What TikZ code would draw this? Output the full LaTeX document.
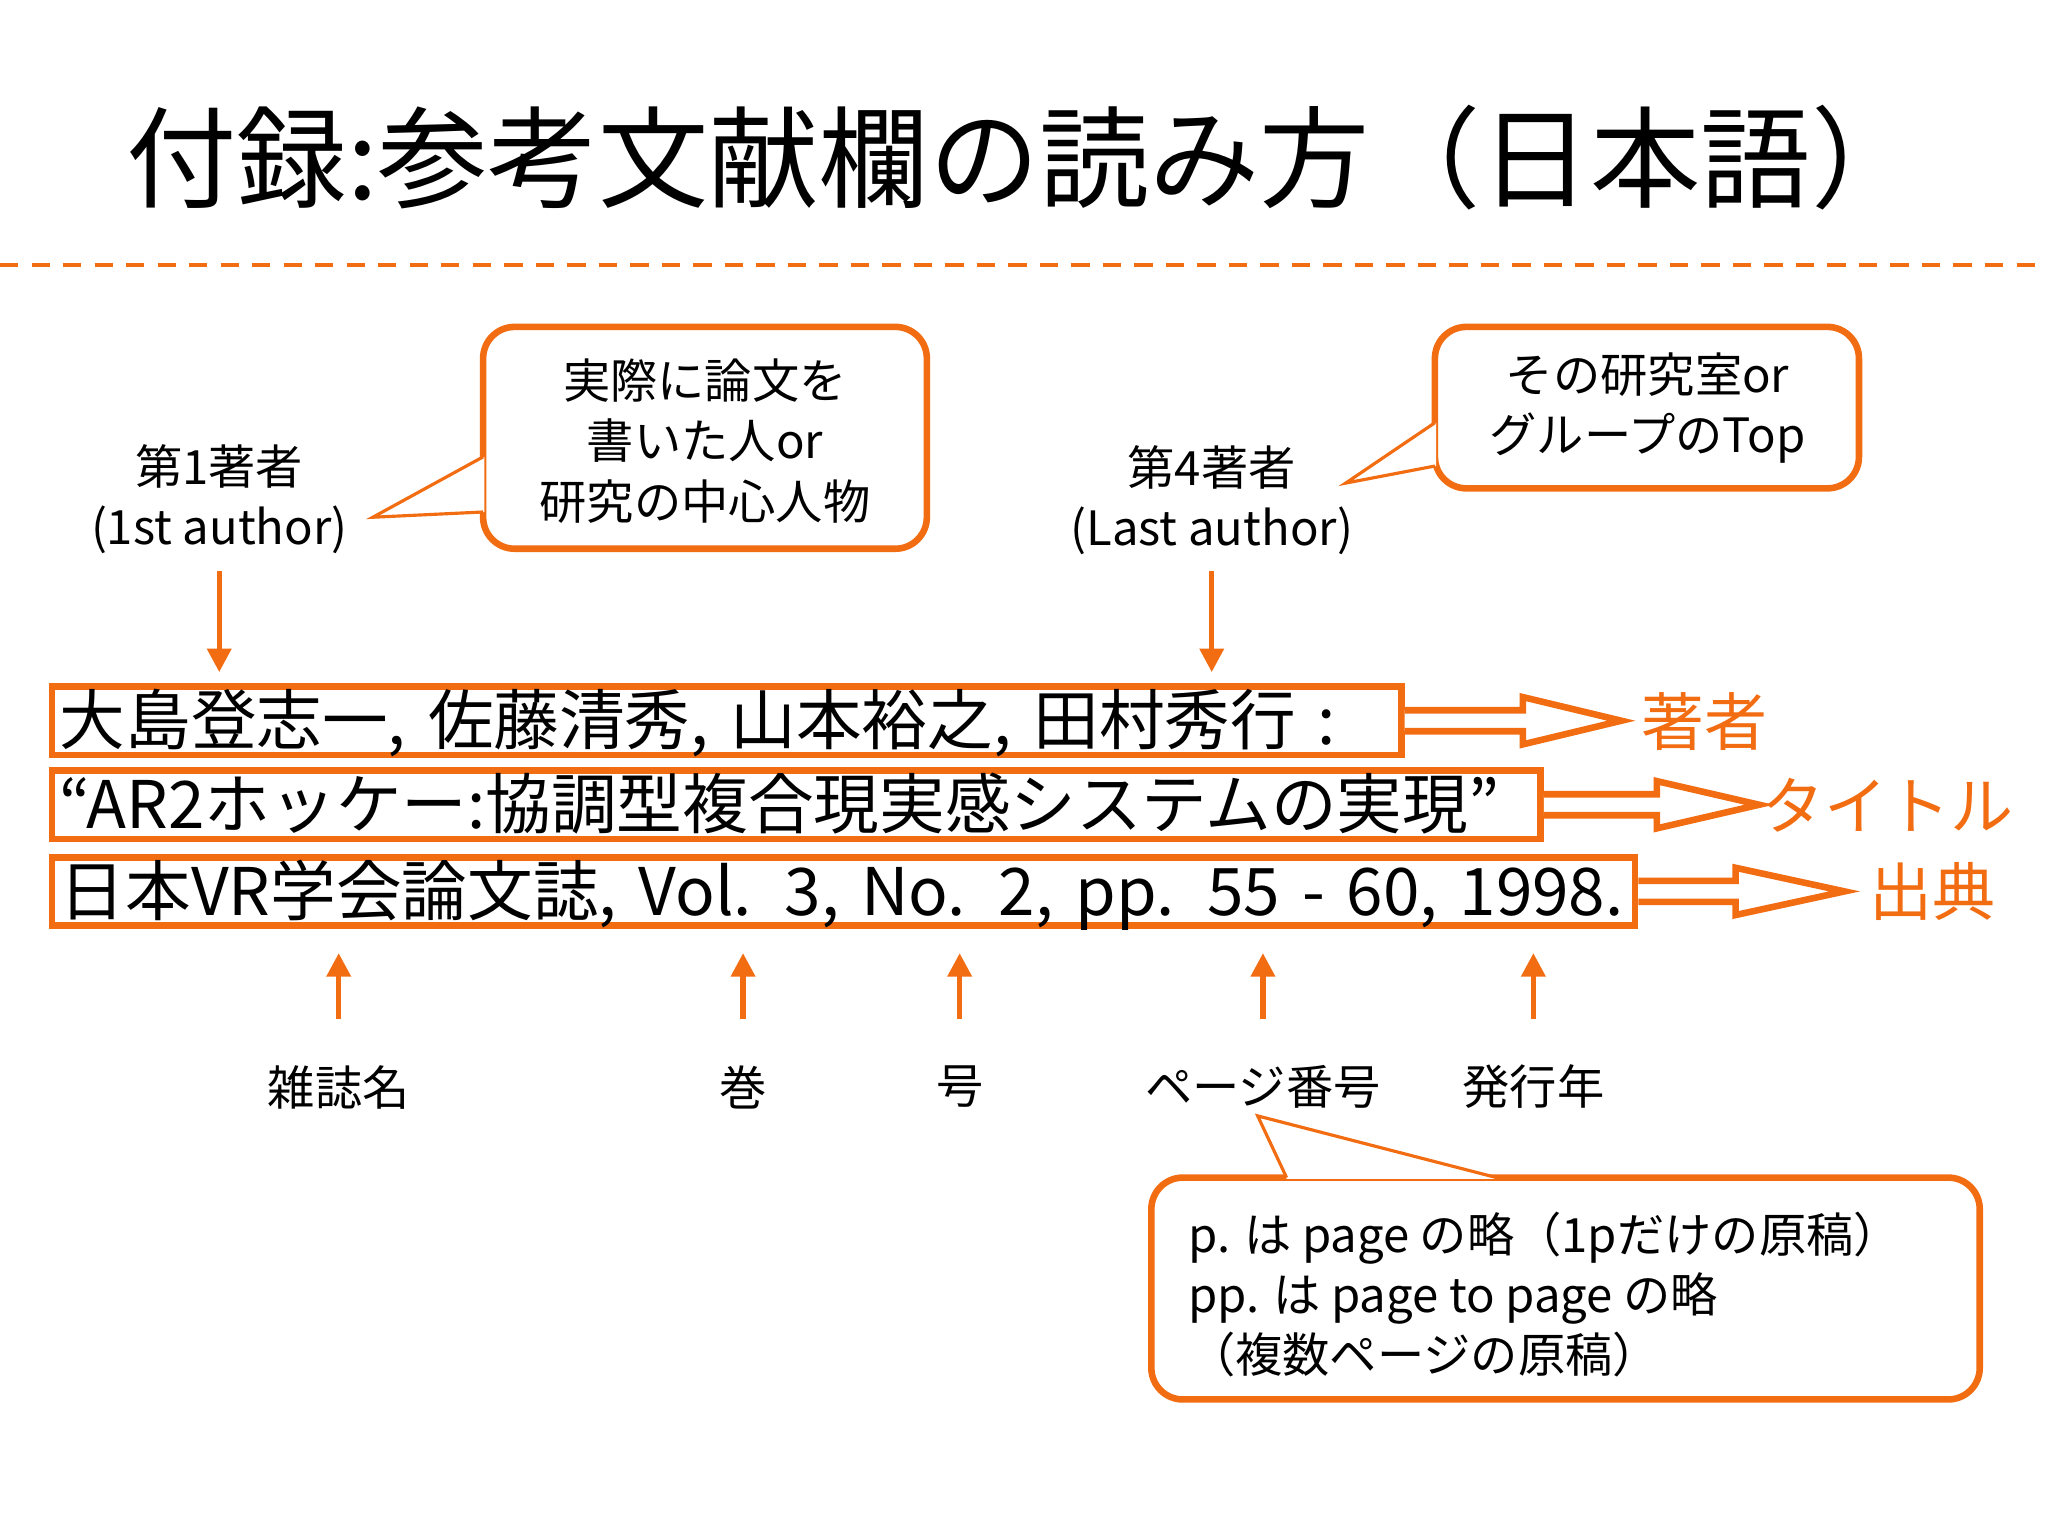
\documentclass[tikz,border=0pt]{standalone}
\usepackage{fontspec}
\setmainfont{Noto Sans CJK JP}
\usetikzlibrary{arrows.meta}
\definecolor{org}{RGB}{242,108,18}
\tikzset{
  box/.style={draw=org,line width=2.5pt,rounded corners=12pt,fill=white},
  cite/.style={draw=org,line width=2.5pt,anchor=west,inner xsep=3pt,inner ysep=1pt,font=\fontsize{25}{28}\selectfont,text height=21pt,text depth=3pt,align=left},
  lab/.style={font=\fontsize{18}{23}\selectfont,align=center},
  olab/.style={font=\fontsize{24}{28}\selectfont,text=org},
  arr/.style={draw=org,line width=2pt,-{Triangle[length=9pt,width=9pt]}},
  hollow/.style={draw=org,line width=2.5pt,fill=white,line join=miter},
}
\begin{document}
\begin{tikzpicture}[x=0.5pt,y=-0.5pt]
\useasboundingbox (0,0) rectangle (1560,1170);
\node (title) at (780,120) {\fontsize{42}{46}\selectfont 付録:参考文献欄の読み方（日本語）};
\draw[org,line width=1.5pt,dash pattern=on 7pt off 5pt] (0,202) coordinate (dl) -- (1560,202) coordinate (dr);

% callout 1
\draw[box] (368,249) rectangle (706,418);
\node[lab] (c1) at (537,336) {実際に論文を\\書いた人or\\研究の中心人物};
\fill[white] (369,348) -- (284,394) -- (369,390) -- cycle;
\draw[org,line width=1.2pt] (368,348) -- (284,394) coordinate (t1) -- (368,390);

% callout 2
\draw[box] (1093,249) rectangle (1416,372);
\node[lab] (c2) at (1255,311) {その研究室or\\グループのTop};
\fill[white] (1094,322) -- (1025,368) -- (1094,355) -- cycle;
\draw[org,line width=1.2pt] (1093,322) -- (1025,368) coordinate (t2) -- (1093,355);

% authors
\node[lab] (a1) at (167,380) {第1著者\\(1st author)};
\node[lab] (a4) at (923,381) {第4著者\\(Last author)};

% citation lines
\node[cite,text width=508pt] (l1) at (37,549) {大島登志一, 佐藤清秀, 山本裕之, 田村秀行 :};
\node[cite,text width=561pt] (l2) at (37,613) {“AR2ホッケー:協調型複合現実感システムの実現”};
\node[anchor=west,font=\fontsize{25}{28}\selectfont,inner sep=0pt] (comma) at (l2.east) {,};
\node[cite,text width=597pt] (l3) at (37,679) {日本VR学会論文誌, Vol. 3, No. 2, pp. 55 - 60, 1998.};

\coordinate (a1e) at (167,512);
\coordinate (a4e) at (923,512);
\draw[arr] (167,435) -- (a1e);
\draw[arr] (923,435) -- (a4e);

% hollow arrows
\node[olab] (h1) at (1298,550) {著者};
\node[olab] (h2) at (1438,613) {タイトル};
\node[olab] (h3) at (1472,679) {出典};
\foreach \n/\y/\s/\t in {l1/549/1160/1235, l2/613/1262/1340, l3/679/1322/1405}{
  \draw[hollow] (\n.east |- 0,\y-8) -- (\s,\y-8) -- (\s,\y-18) -- (\t,\y) -- (\s,\y+18) -- (\s,\y+8) -- (\n.east |- 0,\y+8);
}

% bottom labels
\node[lab] (b1) at (258,828) {雑誌名};
\node[lab] (b2) at (566,828) {巻};
\node[lab] (b3) at (731,828) {号};
\node[lab] (b4) at (962,828) {ページ番号};
\node[lab] (b5) at (1168,828) {発行年};
\foreach \x/\b in {258/b1,566/b2,731/b3,962/b4,1168/b5}{
  \draw[arr] (\x,776) -- (\x,726);
}

% callout 3
\draw[box] (877,897) rectangle (1508,1066);
\fill[white] (980,898) -- (958,850) -- (1140,898) -- cycle;
\draw[org,line width=1.2pt] (980,897) -- (958,850) coordinate (t3) -- (1140,897);
\node[lab,align=left,anchor=west] (c3) at (898,986) {p. は page の略（1pだけの原稿）\\pp. は page to page の略\\（複数ページの原稿）};
\end{tikzpicture}
\end{document}
